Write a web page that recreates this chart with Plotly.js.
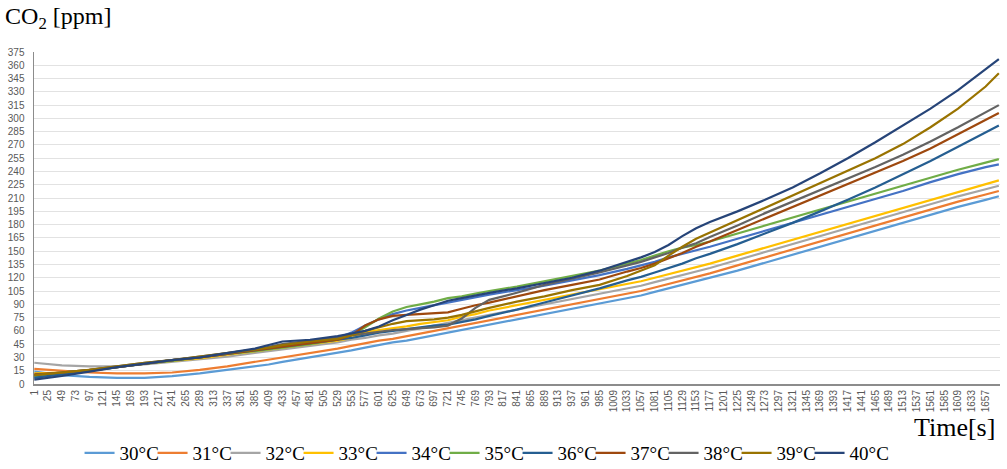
<!DOCTYPE html>
<html>
<head>
<meta charset="utf-8">
<script src="https://cdn.plot.ly/plotly-3.0.1.min.js"></script>
<style>html,body{margin:0;padding:0;background:#fff}#chart{width:1007px;height:469px}</style>
</head>
<body>
<div id="chart"></div>
<script>
// Sample times [s]
var time = [1,49,97,145,193,241,289,337,385,409, 433,481,529,553,577,601,625,649,673,697, 721,745,769,793,841,889,937,985,1033,1057, 1081,1105,1129,1153,1177,1225,1273,1321,1369,1417, 1465,1513,1561,1609,1657,1680];

var s30 = [14,10,8,7,7,9,12,16,20,22, 25,30,35,38,41,44,47,49,52,55, 58,61,64,67,73,79,85,91,97,100, 104,108,112,116,120,128,137,146,155,164, 173,182,191,200,208,212];
var s31 = [17,15,13,12,12,13,16,20,25,27, 30,35,40,43,46,49,51,54,57,60, 63,66,69,72,78,84,90,96,102,105, 109,113,117,121,125,134,143,152,161,170, 179,188,197,206,214,218];
var s32 = [24,21,20,20,22,25,28,31,35,37, 39,43,47,50,52,55,57,60,63,66, 69,72,75,78,84,90,96,102,108,111, 115,119,123,127,131,140,149,158,167,176, 185,194,203,212,220,224];
var s33 = [12,13,15,19,23,26,29,33,37,39, 41,45,49,52,58,61,63,65,68,70, 72,76,79,83,89,95,101,107,113,116, 120,124,128,132,136,145,154,163,172,181, 190,199,208,217,226,230];
var s34 = [8,12,15,19,23,27,30,34,38,40, 43,47,52,58,66,73,79,83,86,89, 92,95,98,101,106,111,117,123,130,134, 138,143,147,151,155,164,173,182,191,200, 209,218,228,237,245,248];
var s35 = [9,12,15,19,23,26,30,34,37,39, 41,45,50,55,64,74,82,87,90,93, 97,99,102,105,110,116,122,128,136,140, 145,150,154,157,161,170,179,188,197,206, 215,224,233,242,250,254];
var s36 = [7,11,15,19,23,27,30,34,38,40, 42,46,50,52,55,58,60,62,64,66, 67,70,73,77,84,92,100,108,117,121, 126,131,136,142,147,158,170,182,195,208, 222,237,252,268,284,292];
var s37 = [11,13,16,19,23,27,30,34,38,40, 42,46,50,55,66,73,77,78,79,80, 81,85,89,92,99,106,112,118,127,131, 136,142,148,155,161,174,187,200,213,226, 239,252,266,282,298,306];
var s38 = [10,13,16,20,24,27,31,35,39,42, 45,49,52,55,57,59,61,62,63,64, 66,74,86,95,103,112,119,126,134,138, 143,148,154,159,166,179,193,206,219,232, 245,259,274,290,307,315];
var s39 = [10,13,16,20,24,27,31,35,39,41, 44,48,51,55,60,64,68,71,72,73, 75,78,82,86,93,99,106,112,122,128, 134,145,155,164,171,185,199,213,227,241, 255,271,290,311,336,351];
var s40 = [5,9,14,19,23,27,30,35,40,44, 48,50,54,57,60,65,72,78,84,89, 94,97,100,103,108,114,120,128,138,143, 149,157,167,176,183,195,208,222,238,255, 273,292,311,332,356,367];

var seriesNames = ["30°C","31°C","32°C","33°C","34°C","35°C","36°C","37°C","38°C","39°C","40°C"];
var seriesData = [s30,s31,s32,s33,s34,s35,s36,s37,s38,s39,s40];
var colors = ["#5B9BD5","#ED7D31","#A5A5A5","#FFC000","#4472C4","#70AD47","#255E91","#9E480E","#636363","#997300","#264478"];

var xTicks = [];
for (var t = 1; t <= 1657; t += 24) xTicks.push(t);
var yTicks = [];
for (var v = 0; v <= 375; v += 15) yTicks.push(v);

var traces = seriesData.map(function(d, i){
  return {x: time, y: d, type: 'scatter', mode: 'lines', name: seriesNames[i],
          line: {color: colors[i], width: 2.2}};
});
// invisible spacer entry so the last legend label is not clipped
traces.push({x: [null], y: [null], type: 'scatter', mode: 'lines', name: ' ',
             showlegend: true, hoverinfo: 'skip', line: {color: 'rgba(0,0,0,0)', width: 0}});

var layout = {
  width: 1007, height: 469,
  margin: {l: 34, r: 7, t: 52, b: 85},
  paper_bgcolor: '#fff', plot_bgcolor: '#fff',
  title: {text: 'CO<sub>2</sub> [ppm]', x: 0.005, xref: 'container', xanchor: 'left',
          y: 0.985, yref: 'container', yanchor: 'top',
          font: {family: 'Liberation Serif, Times New Roman, serif', size: 24, color: '#000'}},
  xaxis: {range: [0.5, 1682], tickvals: xTicks, ticktext: xTicks.map(String), tickangle: -90,
          showgrid: false, zeroline: false, showline: true, linecolor: '#8c8c8c', linewidth: 2,
          ticks: '', tickfont: {family: 'Liberation Sans, Arial, sans-serif', size: 10, color: '#595959'}},
  yaxis: {range: [0, 375], tickvals: yTicks, showgrid: true, gridcolor: '#e2e2e2', gridwidth: 1,
          zeroline: false, showline: true, linecolor: '#8c8c8c', linewidth: 1.5, ticks: '',
          ticklabelstandoff: 6,
          tickfont: {family: 'Liberation Sans, Arial, sans-serif', size: 10, color: '#595959'}},
  showlegend: true,
  legend: {orientation: 'h', x: 0.079, xref: 'container', xanchor: 'left',
           y: 0.034, yref: 'container', yanchor: 'middle',
           font: {family: 'Liberation Serif, Times New Roman, serif', size: 19, color: '#000'},
           itemwidth: 30, entrywidth: 28, entrywidthmode: 'pixels', tracegroupgap: 0,
           bgcolor: 'rgba(0,0,0,0)'},
  annotations: [{text: 'Time[s]', xref: 'paper', yref: 'paper', x: 0.997, y: -0.132,
                 xanchor: 'right', yanchor: 'middle', showarrow: false,
                 font: {family: 'Liberation Serif, Times New Roman, serif', size: 26, color: '#000'}}]
};

Plotly.newPlot('chart', traces, layout, {displayModeBar: false, staticPlot: true});
</script>
</body>
</html>
